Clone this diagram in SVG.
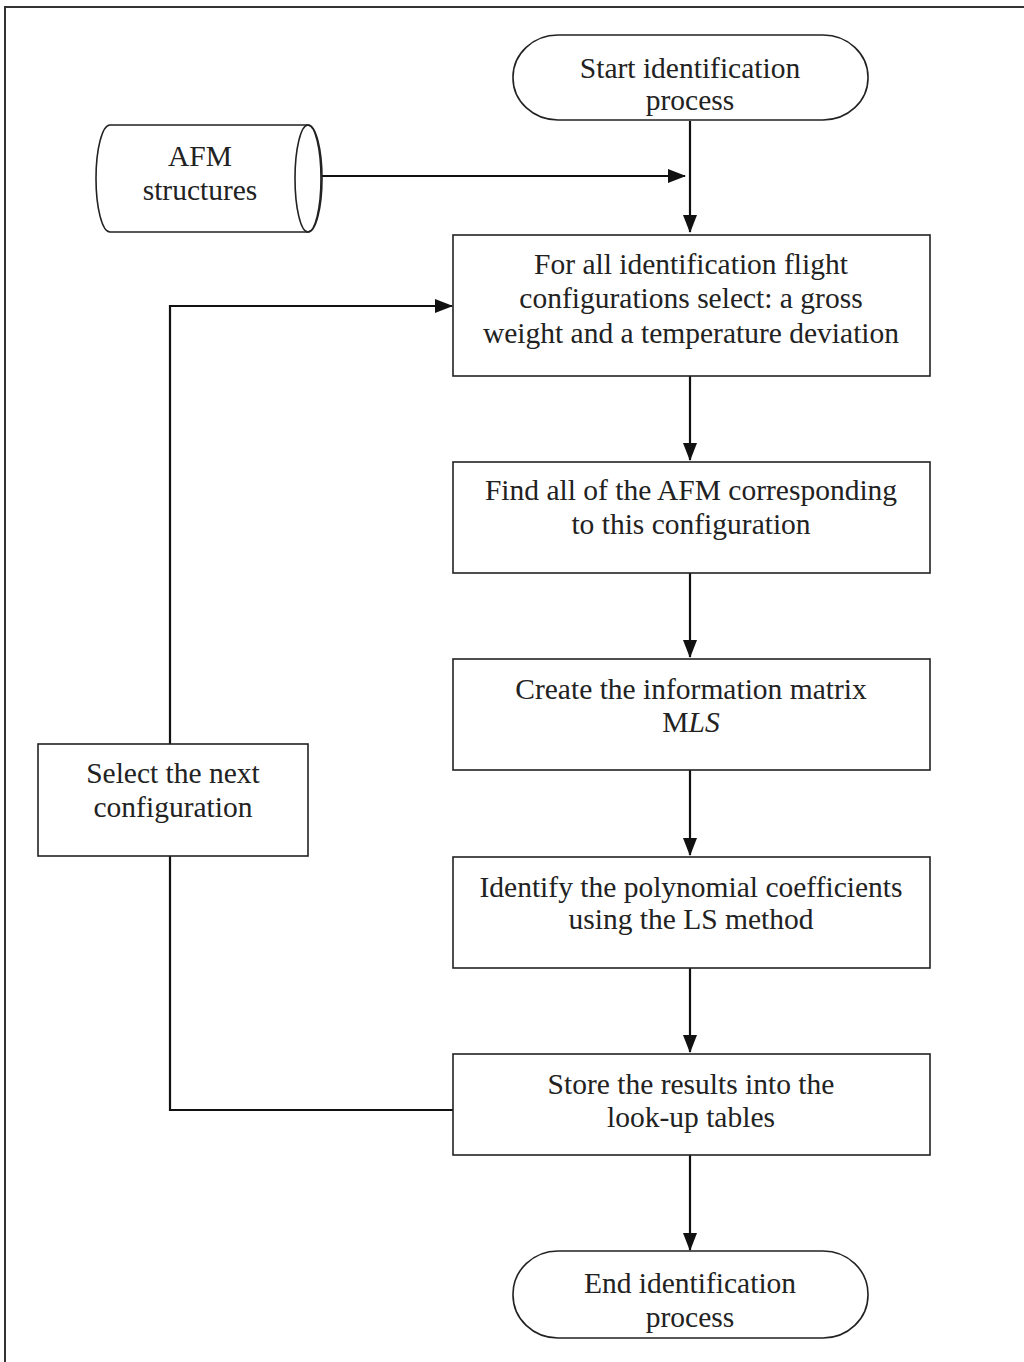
<svg xmlns="http://www.w3.org/2000/svg" width="1024" height="1362" viewBox="0 0 1024 1362">
<style>
.box{fill:#fff;stroke:#222;stroke-width:1.6}
.t{font-family:"Liberation Serif","Times New Roman",serif;font-size:29.5px;fill:#222;text-anchor:middle}
.c{fill:none;stroke:#111;stroke-width:2.2}
</style>
<defs>
<marker id="ah" markerWidth="18" markerHeight="14" refX="17" refY="7" orient="auto" markerUnits="userSpaceOnUse">
<path d="M0,0 L18,7 L0,14 Z" fill="#111"/>
</marker>
</defs>
<rect x="0" y="0" width="1024" height="1362" fill="#fff"/>
<rect x="5" y="7" width="1040" height="1380" fill="none" stroke="#333" stroke-width="2"/>
<g id="connectors">
<path class="c" d="M690,121 L690,232" marker-end="url(#ah)"/>
<path class="c" d="M305,176 L685,176" marker-end="url(#ah)"/>
<path class="c" d="M690,376 L690,460" marker-end="url(#ah)"/>
<path class="c" d="M690,573 L690,657" marker-end="url(#ah)"/>
<path class="c" d="M690,770 L690,855" marker-end="url(#ah)"/>
<path class="c" d="M690,968 L690,1052" marker-end="url(#ah)"/>
<path class="c" d="M690,1155 L690,1250" marker-end="url(#ah)"/>
<path class="c" d="M453,1110 L170,1110 L170,856"/>
<path class="c" d="M170,744 L170,306 L452,306" marker-end="url(#ah)"/>
</g>
<g id="start">
<rect class="box" x="513" y="35" width="355" height="85" rx="45" ry="42"/>
<text class="t" x="690" y="78">Start identification</text>
<text class="t" x="690" y="110">process</text>
</g>
<g id="afm">
<path class="box" d="M110,125 L308,125 A14,53.5 0 0 1 308,232 L110,232 A14,53.5 0 0 1 110,125 Z"/>
<ellipse cx="308" cy="178.5" rx="13" ry="53.5" fill="none" stroke="#222" stroke-width="1.6"/>
<text class="t" x="200" y="166">AFM</text>
<text class="t" x="200" y="200">structures</text>
</g>
<g id="box1">
<rect class="box" x="453" y="235" width="477" height="141"/>
<text class="t" x="691" y="274">For all identification flight</text>
<text class="t" x="691" y="308">configurations select: a gross</text>
<text class="t" x="691" y="343">weight and a temperature deviation</text>
</g>
<g id="box2">
<rect class="box" x="453" y="462" width="477" height="111"/>
<text class="t" x="691" y="500">Find all of the AFM corresponding</text>
<text class="t" x="691" y="534">to this configuration</text>
</g>
<g id="box3">
<rect class="box" x="453" y="659" width="477" height="111"/>
<text class="t" x="691" y="699">Create the information matrix</text>
<text class="t" x="691" y="732">M<tspan font-style="italic">LS</tspan></text>
</g>
<g id="box4">
<rect class="box" x="453" y="857" width="477" height="111"/>
<text class="t" x="691" y="897">Identify the polynomial coefficients</text>
<text class="t" x="691" y="929">using the LS method</text>
</g>
<g id="box5">
<rect class="box" x="453" y="1054" width="477" height="101"/>
<text class="t" x="691" y="1094">Store the results into the</text>
<text class="t" x="691" y="1127">look-up tables</text>
</g>
<g id="select">
<rect class="box" x="38" y="744" width="270" height="112"/>
<text class="t" x="173" y="783">Select the next</text>
<text class="t" x="173" y="817">configuration</text>
</g>
<g id="end">
<rect class="box" x="513" y="1251" width="355" height="87" rx="45" ry="43"/>
<text class="t" x="690" y="1293">End identification</text>
<text class="t" x="690" y="1327">process</text>
</g>
</svg>
